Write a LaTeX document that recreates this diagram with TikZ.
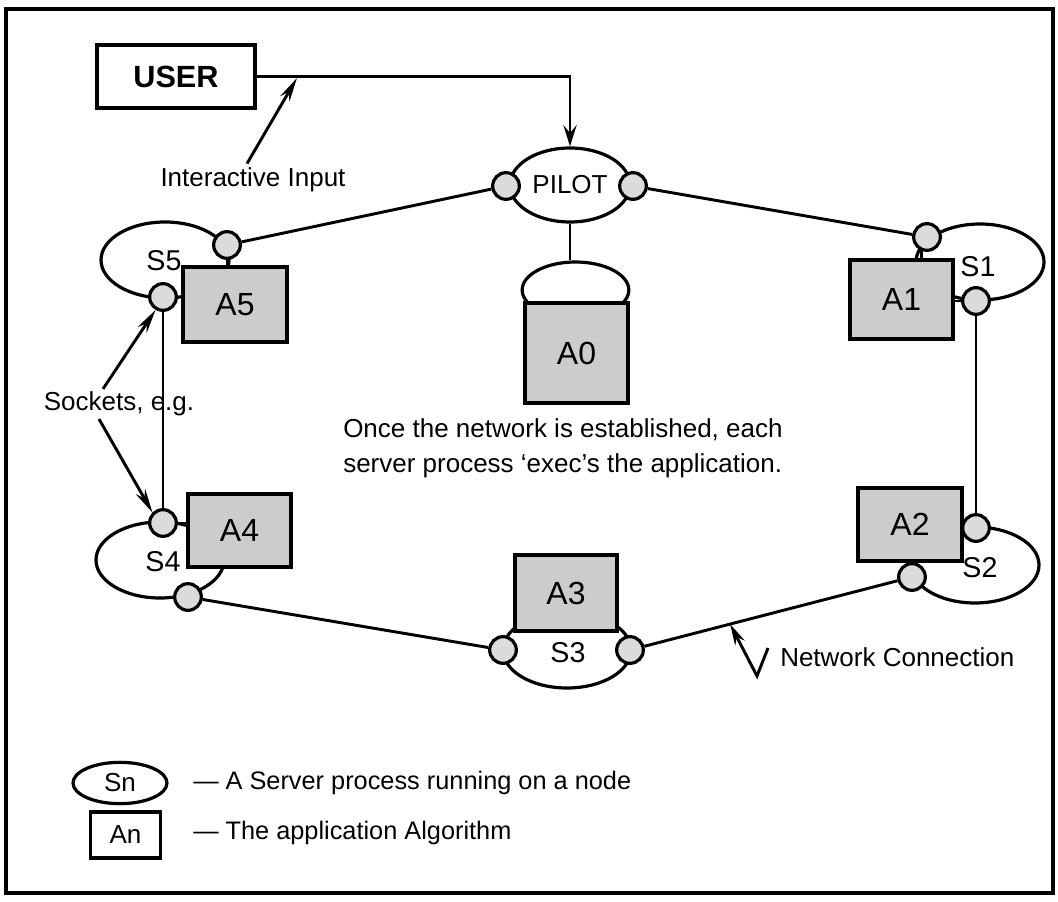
\documentclass[tikz,border=0pt]{standalone}
\usepackage{fontspec}
\setmainfont{Liberation Sans}
\usetikzlibrary{shapes.geometric,arrows.meta,calc}
\begin{document}
\begin{tikzpicture}[x=0.75pt,y=-0.75pt,
  srv/.style={ellipse,draw,line width=2.4pt,fill=white,minimum width=96pt,minimum height=57pt,inner sep=0pt},
  alg/.style={rectangle,draw,line width=2.8pt,fill=black!20,inner sep=0pt,font=\fontsize{24}{27}\selectfont},
  sock/.style={circle,draw,line width=2.4pt,fill=black!14,minimum size=20pt,inner sep=0pt},
  slabel/.style={font=\fontsize{21.5}{24}\selectfont,inner sep=0pt},
  txt/.style={font=\fontsize{19.5}{26.25}\selectfont,inner sep=0pt},
  legtxt/.style={font=\fontsize{19}{23}\selectfont,inner sep=0pt},
  conn/.style={line width=2.2pt},
  arr/.style={line width=2.2pt,-{Stealth[length=18pt,width=8pt]}}
]
\useasboundingbox (0,0) rectangle (1058,902);
\draw[line width=3pt] (6,9) rectangle (1053,893);

% USER
\node[draw,line width=2.8pt,minimum width=118pt,minimum height=47pt,inner sep=0pt,font=\bfseries\fontsize{23}{26}\selectfont] (user) at (176,76.5) {USER};

% PILOT and A0
\node[ellipse,draw,line width=2.4pt,fill=white,minimum width=90pt,minimum height=55.5pt,inner sep=0pt,font=\fontsize{19.5}{22}\selectfont] (pilot) at (570,185) {PILOT};
\node[ellipse,draw,line width=2.4pt,fill=white,minimum width=80pt,minimum height=42pt,inner sep=0pt] (dome) at (575.5,290) {};
\node[alg,minimum width=77pt,minimum height=75pt] (a0) at (576.5,353) {A0};

% server ellipses
\node[srv] (s5) at (165,260) {};
\node[srv] (s4) at (160,560) {};
\node[srv] (s3) at (567,650) {};
\node[srv] (s2) at (975,565) {};
\node[srv] (s1) at (980,262) {};

% application boxes
\node[alg,minimum width=78pt,minimum height=56pt] (a5) at (235,304.5) {A5};
\node[alg,minimum width=77pt,minimum height=55pt] (a4) at (239.5,530.5) {A4};
\node[alg,minimum width=76.5pt,minimum height=57pt] (a3) at (566,593) {A3};
\node[alg,minimum width=78pt,minimum height=55pt] (a2) at (910,524.5) {A2};
\node[alg,minimum width=77pt,minimum height=59pt] (a1) at (901.5,299.5) {A1};

% server labels
\node[slabel] (l5) at (164,261) {S5};
\node[slabel] (l4) at (163,562) {S4};
\node[slabel] (l3) at (568,653) {S3};
\node[slabel] (l2) at (980,568) {S2};
\node[slabel] (l1) at (978,267) {S1};

% network connections (drawn before sockets so sockets sit on top)
\coordinate (cpl) at (506,186);
\coordinate (cpr) at (633,186);

% sockets
\node[sock] (pl) at (506,186) {};
\node[sock] (pr) at (633,186) {};
\node[sock] (s5a) at (227,245) {};
\node[sock] (s5b) at (163,297) {};
\node[sock] (s4a) at (163,523) {};
\node[sock] (s4b) at (188,597) {};
\node[sock] (s3a) at (503,650) {};
\node[sock] (s3b) at (630,650) {};
\node[sock] (s2a) at (976,528) {};
\node[sock] (s2b) at (912,577) {};
\node[sock] (s1a) at (927,237) {};
\node[sock] (s1b) at (976,301) {};

\draw[conn] (pl) -- (s5a);
\draw[conn] (pr) -- (s1a);
\draw[conn] (pilot.south) -- (pilot.south |- dome.north);
\draw[conn] (s5b) -- (s4a);
\draw[conn] (s4b) -- (s3a);
\draw[conn] (s3b) -- (s2b);
\draw[conn] (s1b) -- (s2a);

% short socket ties
\draw[conn] (s5a.south) -- (s5a.south |- a5.north);
\draw[conn] (s5b.east) -- (s5b.east -| a5.west);
\draw[conn] (s4a.east) -- (s4a.east -| a4.west);
\draw[conn] (s1a.250) -- (s1a.250 |- a1.north);
\draw[conn] (s1b.west) -- (s1b.west -| a1.east);
\draw[conn] (s2b.north) -- (s2b.north |- a2.south);

% user input
\draw[conn,-{Stealth[length=16pt,width=10pt,inset=6pt]}] (user.east) -| (pilot.north);
\node[txt] (ii) at (253,180) {Interactive Input};
\coordinate (iit) at (297,78);
\draw[arr] ([xshift=-4.5pt,yshift=3pt]ii.north) -- (iit);

% sockets label
\node[txt] (sk) at (119,404) {Sockets, e.g.};
\draw[arr] ([xshift=-12pt,yshift=2pt]sk.north) -- (s5b.240);
\draw[arr] ([xshift=-15pt,yshift=-2pt]sk.south) -- (s4a.135);

% network connection label
\coordinate (nct) at ($(s3b)!0.355!(s2b)$);
\coordinate (nc1) at (768,648);
\coordinate (nc2) at (757,676);
\draw[line width=2.2pt,-{Stealth[length=16pt,width=8pt]}] (nc1) -- (nc2) -- (nct);
\node[txt,anchor=west] (nclab) at (780,657) {Network Connection};

% note
\node[txt,anchor=north west,align=left] (note) at (343,418) {Once the network is established, each\\server process ‘exec’s the application.};

% legend
\node[ellipse,draw,line width=2.4pt,minimum width=70.5pt,minimum height=31pt,inner sep=0pt,font=\fontsize{19.5}{23}\selectfont] (lsn) at (120,783) {Sn};
\node[draw,line width=2.4pt,minimum width=53pt,minimum height=34.5pt,inner sep=0pt,font=\fontsize{19.5}{23}\selectfont] (lan) at (125.5,835) {An};
\node[legtxt,anchor=west] (lsnt) at (193,783) {— A Server process running on a node};
\node[legtxt,anchor=west] (lant) at (193,833) {— The application Algorithm};
\end{tikzpicture}
\end{document}
